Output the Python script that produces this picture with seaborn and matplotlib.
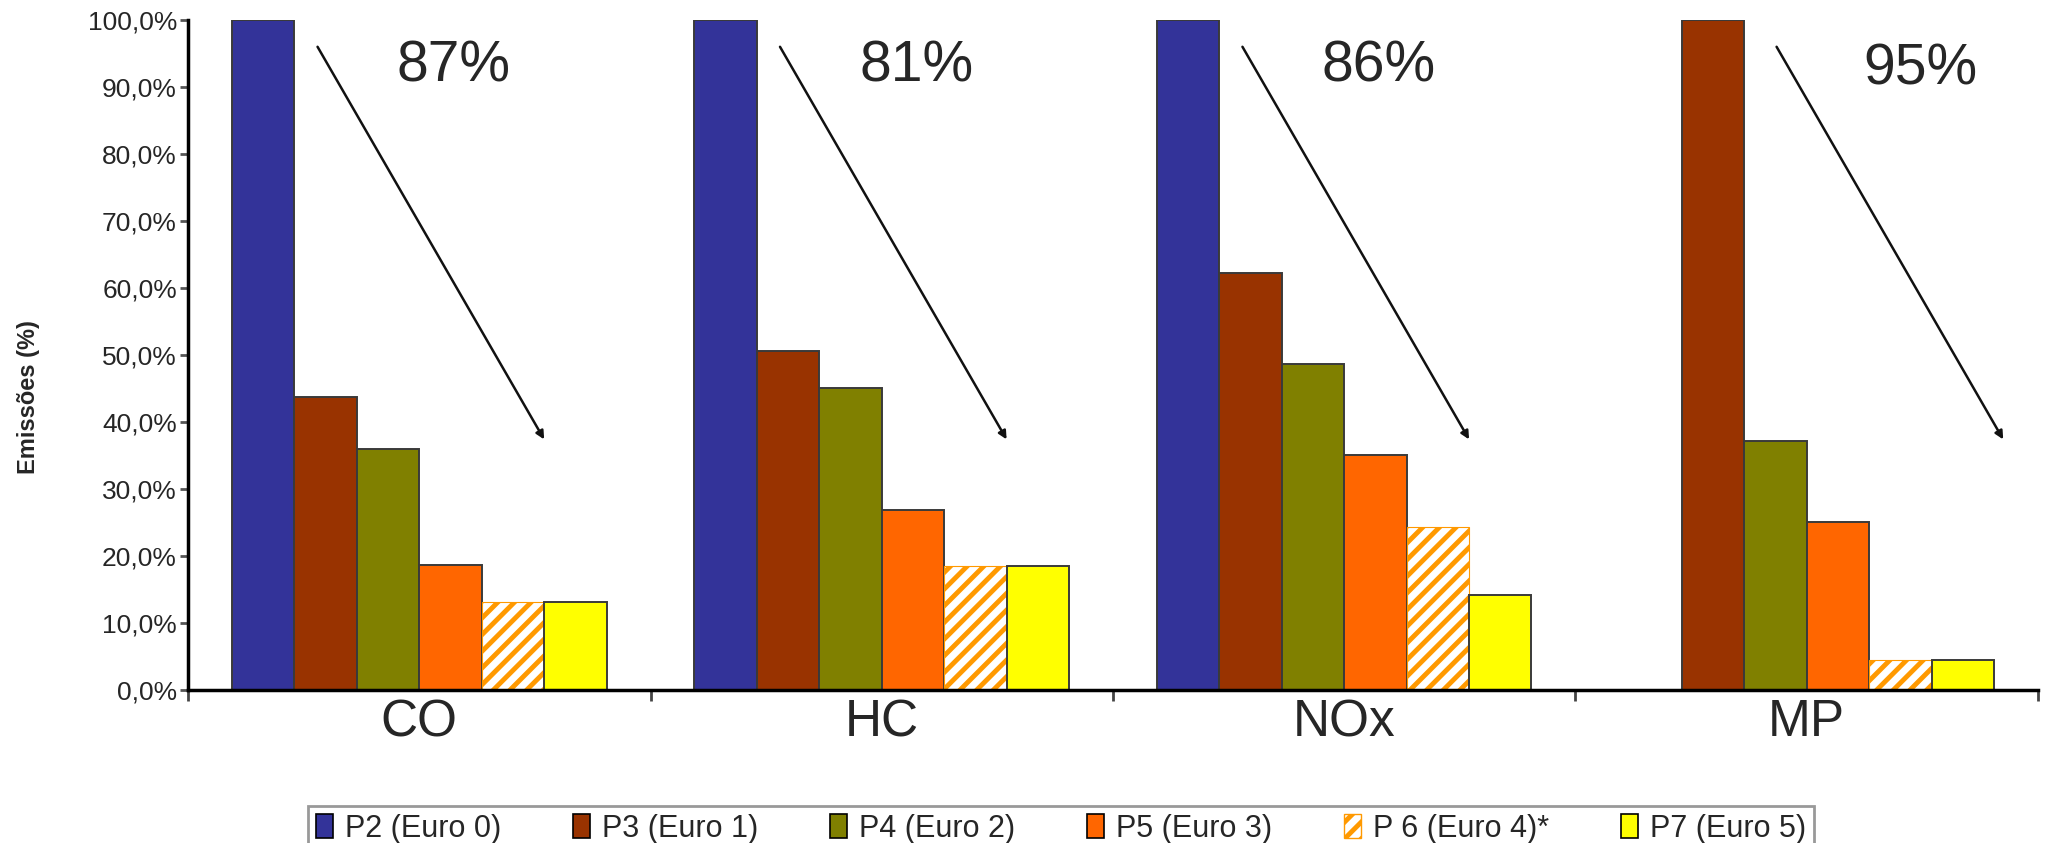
import numpy as np
import pandas as pd
import matplotlib
matplotlib.use("Agg")
import matplotlib.pyplot as plt
from matplotlib.patches import Patch
import seaborn as sns

# ---- data ----
categories = ["CO", "HC", "NOx", "MP"]
series = ["P2 (Euro 0)", "P3 (Euro 1)", "P4 (Euro 2)", "P5 (Euro 3)", "P 6 (Euro 4)*", "P7 (Euro 5)"]
p2 = [100.0, 100.0, 100.0, np.nan]
p3 = [43.7, 50.6, 62.2, 100.0]
p4 = [36.0, 45.1, 48.6, 37.2]
p5 = [18.7, 26.8, 35.0, 25.0]
p6 = [13.2, 18.5, 24.4, 4.5]
p7 = [13.2, 18.5, 14.2, 4.5]
reductions = ["87%", "81%", "86%", "95%"]
ytick_values = list(range(0, 101, 10))

values = [p2, p3, p4, p5, p6, p7]
rows = []
for s, vals in zip(series, values):
    for c, v in zip(categories, vals):
        rows.append({"cat": c, "series": s, "val": v})
df = pd.DataFrame(rows)

colors = ["#333399", "#993300", "#808000", "#FF6600", "#FFFFFF", "#FFFF00"]
hatch_color = "#FF9900"

sns.set_style("white")
plt.rcParams["font.family"] = ["Liberation Sans", "DejaVu Sans"]
plt.rcParams["hatch.linewidth"] = 3.5

fig = plt.figure(figsize=(20.62, 8.43), dpi=100)
ax = fig.add_axes([0.0912, 0.1815, 0.8971, 0.7948])

sns.barplot(data=df, x="cat", y="val", hue="series", order=categories,
            hue_order=series, palette=dict(zip(series, colors)), width=0.81,
            edgecolor="#3a3a3a", linewidth=1.4, saturation=1, ax=ax, legend=False)

# hatched series
for bar in ax.containers[4]:
    bar.set_facecolor("white")
    bar.set_edgecolor(hatch_color)
    bar.set_hatch("//")
    bar.set_linewidth(0.8)

ax.set_xlim(-0.5, 3.5)
ax.set_ylim(0, 100)
ax.set_yticks(ytick_values)
ax.set_yticklabels([f"{v:.1f}%".replace(".", ",") for v in ytick_values], fontsize=19)
ax.set_xlabel("")
ax.set_ylabel("")
ax.tick_params(axis="y", which="major", direction="out", length=6, width=2, color="#555555", pad=2, left=True)
ax.set_xticks(range(len(categories)))
ax.set_xticklabels(categories, fontsize=37)
ax.tick_params(axis="x", which="major", length=0, pad=6)
ax.set_xticks(np.arange(-0.5, 3.6, 1.0), minor=True)
ax.tick_params(axis="x", which="minor", direction="out", length=8, width=2, color="#444444", bottom=True)

for side in ["top", "right"]:
    ax.spines[side].set_visible(False)
for side in ["left", "bottom"]:
    ax.spines[side].set_color("black")
    ax.spines[side].set_linewidth(2.5)

# trend arrows and reduction labels
arrow_start = [-0.22, -0.22, -0.22, -0.065]
for i, (lab, dx) in enumerate(zip(reductions, arrow_start)):
    ax.annotate("", xy=(i + dx + 0.49, 37.4), xytext=(i + dx, 96.0),
                arrowprops=dict(arrowstyle="-|>", color="#111111", lw=1.8,
                                mutation_scale=12, shrinkA=0, shrinkB=0))
    lx = i + (0.245 if i == 3 else 0.075)
    ly = 92.6 if i == 3 else 93.0
    ax.text(lx, ly, lab, ha="center", va="center", fontsize=41)

fig.text(0.014, 0.529, "Emissões (%)", rotation=90, ha="center", va="center",
         fontsize=17, fontweight="semibold")

handles = []
for s, c in zip(series, colors):
    if s.startswith("P 6"):
        handles.append(Patch(facecolor="white", edgecolor=hatch_color, hatch="//", label=s))
    else:
        handles.append(Patch(facecolor=c, edgecolor="black", linewidth=1.2, label=s))
leg = fig.legend(handles=handles, loc="upper center", bbox_to_anchor=(0.5146, 0.0440),
                 ncol=6, fontsize=22, frameon=True, fancybox=False,
                 handlelength=0.55, handleheight=0.8, handletextpad=0.4,
                 columnspacing=2.35, borderpad=0.25, borderaxespad=0)
leg.get_frame().set_edgecolor("#808080")
leg.get_frame().set_linewidth(2)

fig.savefig("out.png", dpi=100, facecolor="white")
